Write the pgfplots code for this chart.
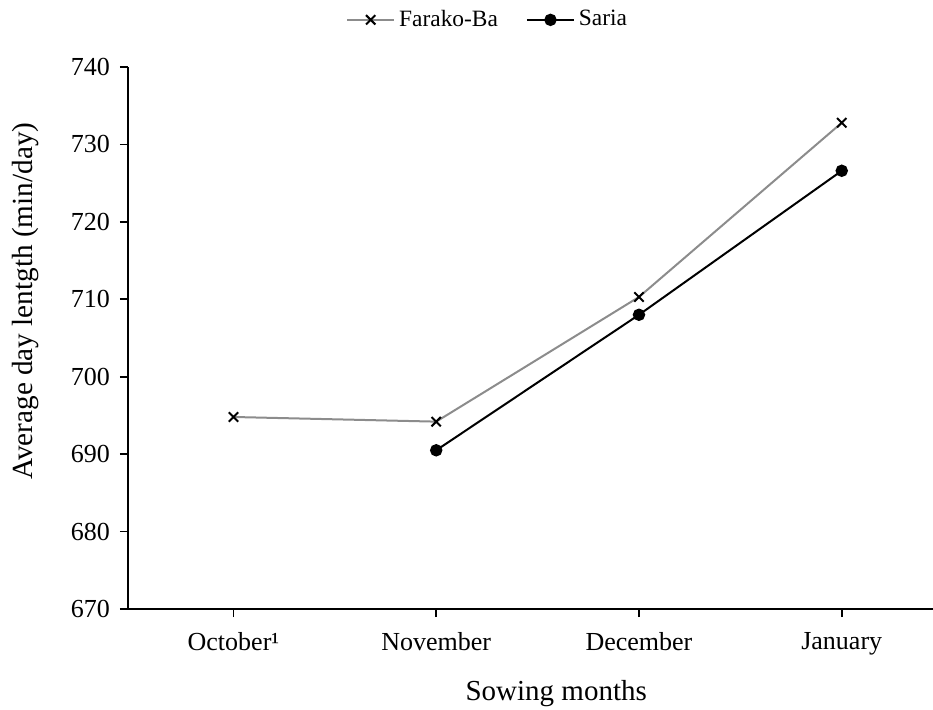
\documentclass[border=0pt]{standalone}
\usepackage{fontspec}
\setmainfont{Liberation Serif}
\usepackage{pgfplots}
\pgfplotsset{compat=1.18}
\begin{document}
\fontsize{13pt}{15pt}\selectfont
\begin{tikzpicture}[x=0.5pt,y=0.5pt]
\begin{axis}[
  at={(0,0)}, anchor=south west,
  scale only axis,
  width=402.5pt, height=271pt,
  xmin=-0.52, xmax=3.45,
  ymin=670, ymax=740,
  ytick={670,680,...,740},
  xtick={0,1,2,3},
  xticklabels={October¹,November,December,January},
  axis x line*=bottom, axis y line*=left,
  axis line style={line width=0.8pt},
  tick style={black, line width=0.8pt},
  major tick length=4pt,
  tick align=outside,
  tick label style={font=\fontsize{13pt}{15pt}\selectfont},
  /pgf/number format/assume math mode=true,
  yticklabel style={xshift=-0.5pt},
  xticklabel style={yshift=-3pt},
  ylabel={Average day lentgth (min/day)},
  ylabel style={font=\fontsize{14.6pt}{16pt}\selectfont, at={(axis description cs:-0.119,0.568)}, anchor=base, rotate=0},
  xlabel={Sowing months},
  xlabel style={font=\fontsize{14.5pt}{16pt}\selectfont, at={(axis description cs:0.532,-0.168)}, anchor=base},
  legend style={at={(axis description cs:0.448,1.087)}, anchor=center, draw=none, legend columns=2,
    font=\fontsize{11.7pt}{13pt}\selectfont, inner sep=0pt,
    /tikz/every even column/.append style={column sep=12pt}},
  legend image code/.code={\draw[#1] (0pt,0pt) -- (23.5pt,0pt); \draw[#1, mark repeat=1] plot coordinates {(11.75pt,0pt)};},
  clip=false,
]
\addplot[color=black!45, line width=1pt, mark=x, mark size=3.3pt, mark options={black, line width=1pt, solid}]
  coordinates {(0,694.8) (1,694.2) (2,710.3) (3,732.8)};
\addlegendentry{Farako-Ba}
\addplot[color=black, line width=1pt, mark=*, mark size=2.6pt, mark options={black}]
  coordinates {(1,690.5) (2,708.0) (3,726.6)};
\addlegendentry{Saria}
\end{axis}
\pgfresetboundingbox
\useasboundingbox (-128,-100) rectangle (805,609);
\end{tikzpicture}
\end{document}
